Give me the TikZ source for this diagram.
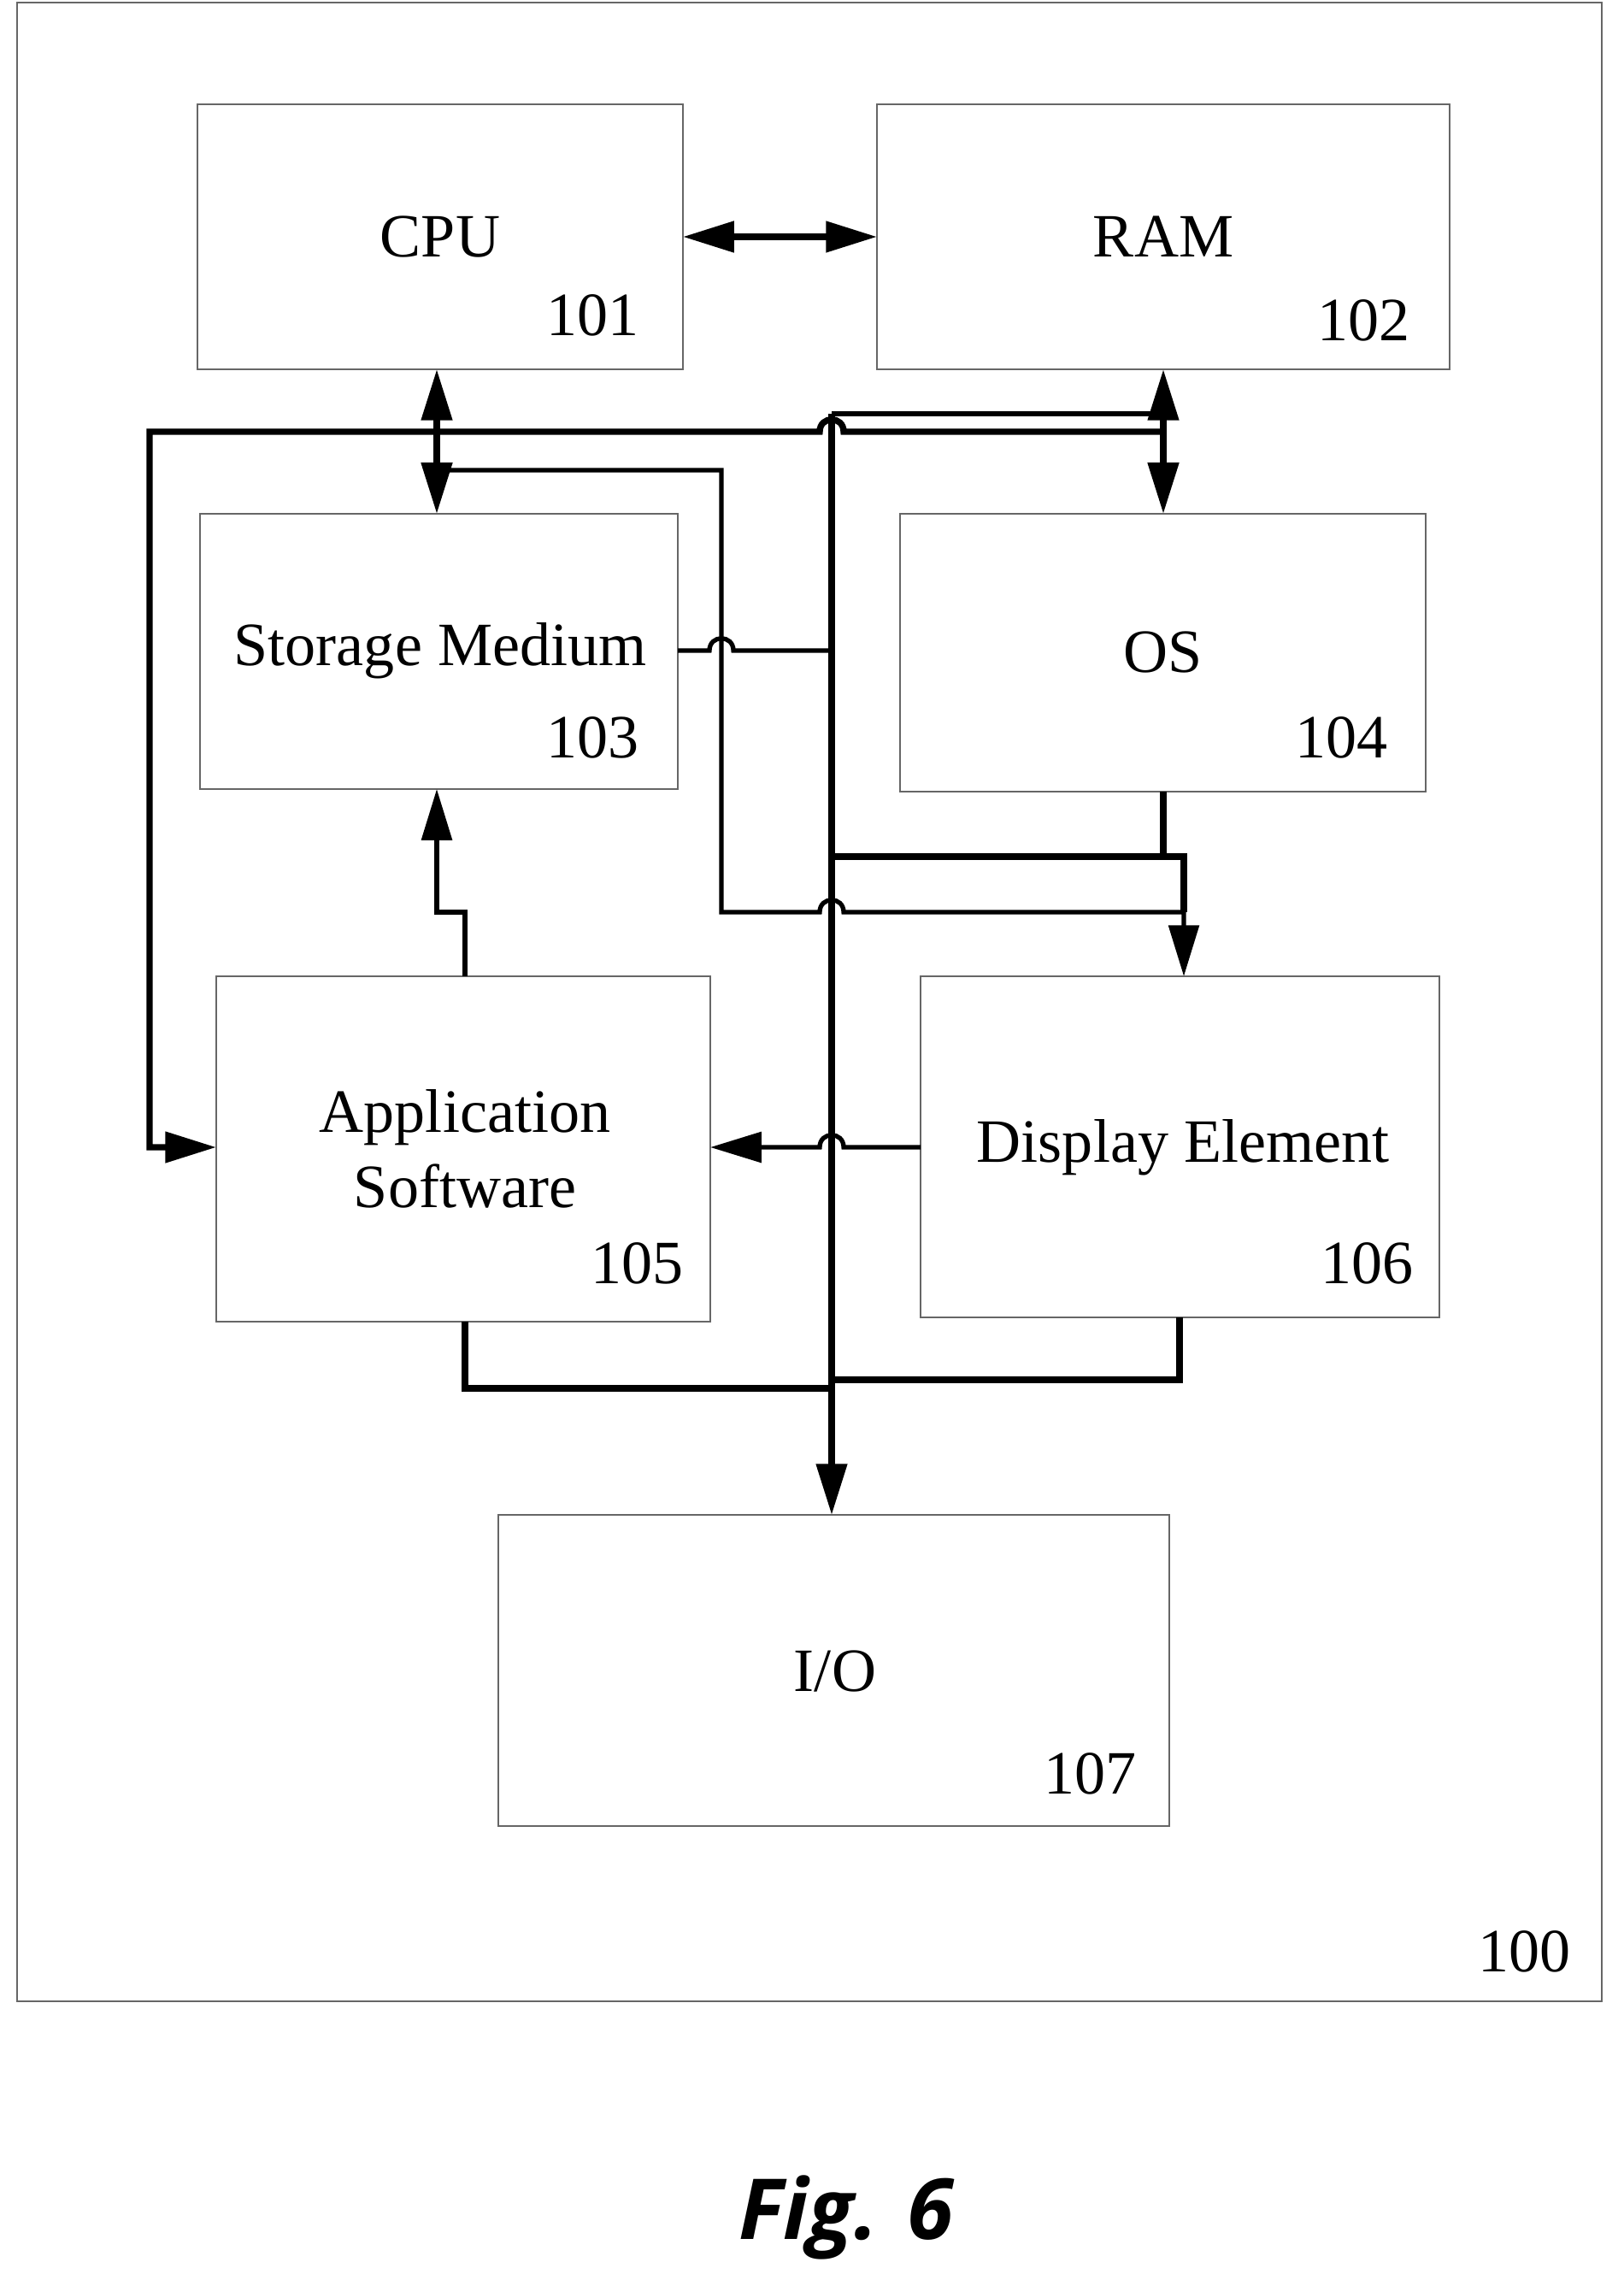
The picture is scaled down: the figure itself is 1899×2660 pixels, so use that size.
\documentclass[tikz,border=0pt]{standalone}
\usepackage{fontspec}
\setmainfont{Liberation Serif}
\newfontfamily\figfont{Open Sans}
\usetikzlibrary{arrows.meta}
\begin{document}
\begin{tikzpicture}[x=0.1mm,y=-0.1mm,
  box/.style={draw=black!60,line width=0.5pt},
  lbl/.style={font=\fontsize{20.5}{25}\selectfont,align=center},
  num/.style={font=\fontsize{20.5}{25}\selectfont,anchor=south east},
  wire/.style={line width=1.5pt},
  bus/.style={line width=2.1pt},
  tip/.style={-{Triangle[length=17pt,width=10pt]}},
  dtip/.style={{Triangle[length=17pt,width=10pt]}-{Triangle[length=17pt,width=10pt]}}]
\useasboundingbox (0,0) rectangle (1899,2660);
\draw[box] (20,3) rectangle (1874,2341);
\node[num] (n100) at (1850,2320) {100};
% boxes
\draw[box] (231,122) rectangle (799,432); \node[lbl] (cpu) at (515,277) {CPU}; \node[num] (n101) at (760,406) {101};
\draw[box] (1026,122) rectangle (1696,432); \node[lbl] (ram) at (1361,277) {RAM}; \node[num] (n102) at (1662,412) {102};
\draw[box] (234,601) rectangle (793,923); \node[lbl] (sto) at (515,761) {Storage Medium}; \node[num] (n103) at (760,900) {103};
\draw[box] (1053,601) rectangle (1668,926); \node[lbl] (os) at (1361,763) {OS}; \node[num] (n104) at (1636,900) {104};
\draw[box] (253,1142) rectangle (831,1546); \node[lbl] (app) at (544,1344) {Application\\Software}; \node[num] (n105) at (812,1515) {105};
\draw[box] (1077,1142) rectangle (1684,1541); \node[lbl] (disp) at (1384,1342) {Display Element}; \node[num] (n106) at (1666,1515) {106};
\draw[box] (583,1772) rectangle (1368,2136); \node[lbl] (io) at (977,1955) {I/O}; \node[num] (n107) at (1342,2112) {107};
% connectors
\draw[bus,dtip] (799,277) -- (1026,277);
\draw[bus,dtip] (511,432) -- (511,601);
\draw[bus,dtip] (1361,432) -- (1361,601);
\draw[bus,tip] (973,484) -- (973,1772);
\draw[wire] (973,484) -- (1361,484);
\draw[bus,tip] (1361,505) -- (987,505) .. controls (987,486) and (959,486) .. (959,505) -- (175,505) -- (175,1342) -- (253,1342);
\draw[wire,tip] (511,550) -- (844,550) -- (844,1067) -- (959,1067) .. controls (959,1048) and (987,1048) .. (987,1067) -- (1385,1067) -- (1385,1142);
\draw[wire] (793,761) -- (830,761) .. controls (830,742) and (858,742) .. (858,761) -- (973,761);
\draw[bus] (1361,926) -- (1361,1002);
\draw[bus] (973,1002) -- (1385,1002) -- (1385,1067);
\draw[wire,tip] (544,1142) -- (544,1067) -- (511,1067) -- (511,923);
\draw[wire,tip] (1077,1342) -- (987,1342) .. controls (987,1323) and (959,1323) .. (959,1342) -- (831,1342);
\draw[bus] (544,1546) -- (544,1624) -- (973,1624);
\draw[bus] (1380,1541) -- (1380,1614) -- (973,1614);
\node[font=\figfont\bfseries\itshape\fontsize{28}{34}\selectfont] (fig) at (990,2594) {Fig. 6};
\end{tikzpicture}
\end{document}
